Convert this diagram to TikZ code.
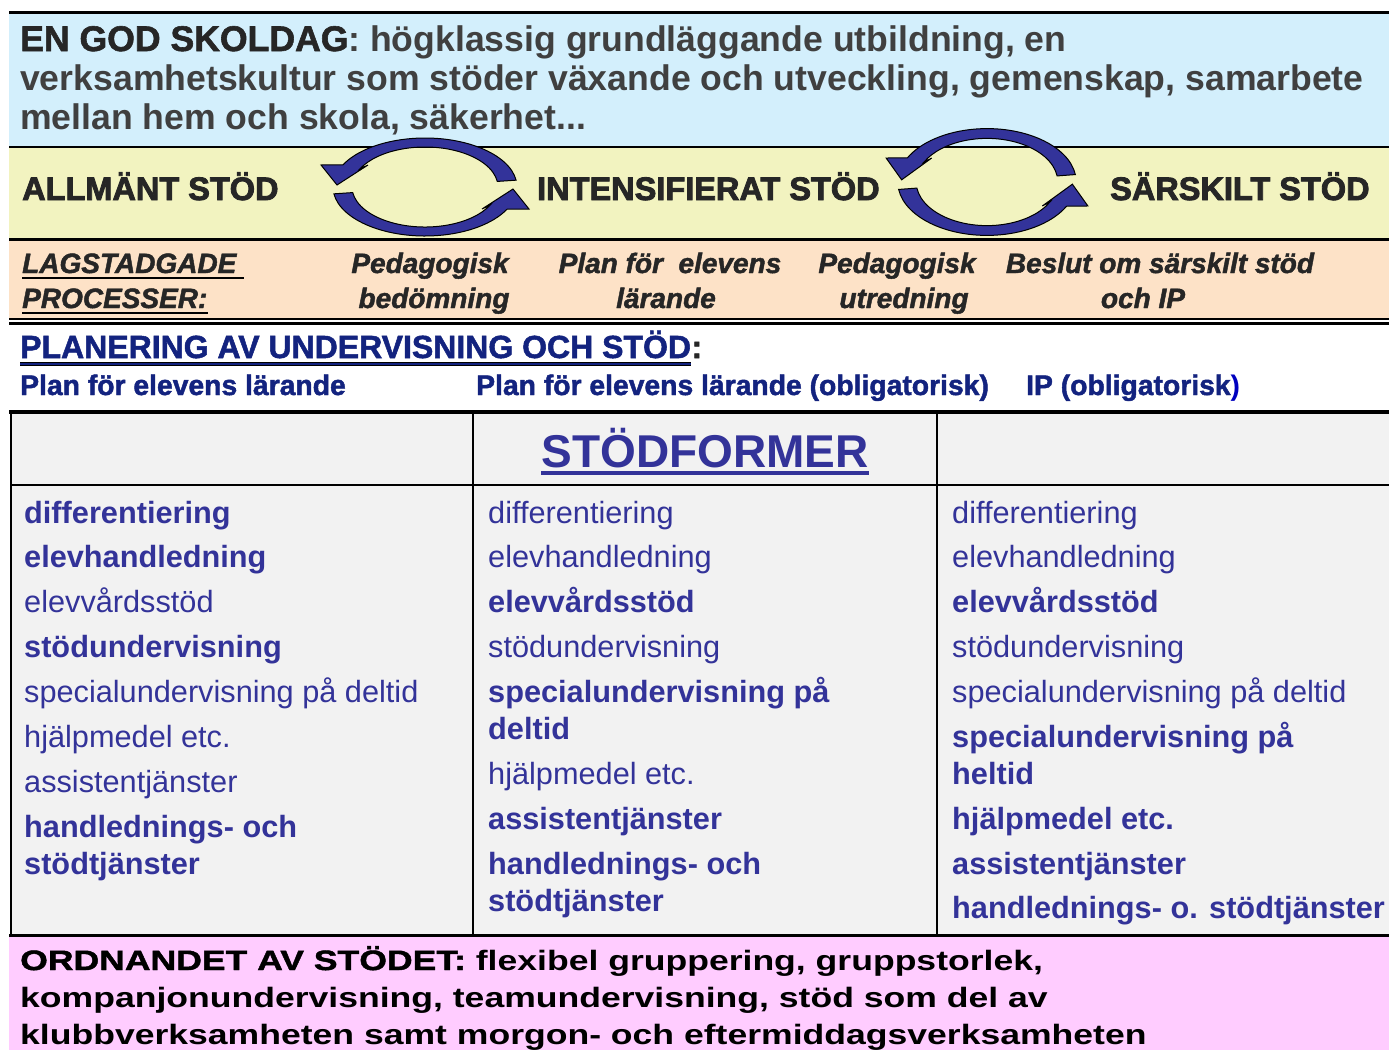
\documentclass[tikz,border=0pt]{standalone}
\usepackage{fontspec}
\setmainfont{Liberation Sans}
\newfontfamily\widesans[FakeStretch=1.27]{Liberation Sans}
\newfontfamily\wideheavy[FakeStretch=1.27, FakeBold=1.6]{Liberation Sans}
\newfontfamily\heavysans[FakeBold=1.6]{Liberation Sans}
\newfontfamily\blacksans[FakeBold=2.6]{Liberation Sans}
\usepackage{tikz}
\usetikzlibrary{calc}

\definecolor{skyband}{HTML}{D3EFFC}
\definecolor{lemonband}{HTML}{F2F3C0}
\definecolor{peachband}{HTML}{FDE2C7}
\definecolor{pinkband}{HTML}{FFCCFF}
\definecolor{tablegray}{HTML}{F2F2F2}
\definecolor{itemblue}{HTML}{333399}
\definecolor{planblue}{HTML}{13237F}
\definecolor{greytext}{HTML}{404040}
\definecolor{arrowblue}{HTML}{33339A}

\newcommand{\pxsize}[1]{\fontsize{#1}{#1}\selectfont}

\tikzset{
	lbl/.style = {inner sep=0pt, anchor=base west},
	clbl/.style = {inner sep=0pt, anchor=base},
	item/.style = {lbl, text=itemblue, font=\pxsize{30.7}},
	proc/.style = {clbl, text=black!85, font=\heavysans\pxsize{28}\bfseries\itshape},
	level/.style = {lbl, text=black!85, font=\blacksans\pxsize{32.5}\bfseries},
	cyclearrows/.pic = {
		\foreach \rot in {0,180}{
			\filldraw[fill=arrowblue, draw=black, line width=1pt, rotate=\rot]
				(8:92 and 49) arc[start angle=8, end angle=153, x radius=92, y radius=49]
				-- (-104,22) -- (-88,2) -- (-57,22)
				-- (153:73 and 40) arc[start angle=153, end angle=8, x radius=73, y radius=40] -- cycle;
		}
	}
}

\begin{document}
\begin{tikzpicture}[x=1pt, y=-1pt]
	\useasboundingbox[fill=white] (0,0) rectangle (1389,1050);
	% bands
	\fill[skyband] (9,13) rectangle (1389,147);
	\fill[lemonband] (9,147) rectangle (1389,239);
	\fill[peachband] (9,239) rectangle (1389,320);
	\fill[tablegray] (10,412) rectangle (1389,936);
	\fill[pinkband] (9,936) rectangle (1389,1050);
	% rules
	\draw[line width=2.5pt] (9,12.5) -- (1389,12.5);
	\draw[line width=2.5pt] (9,147) -- (1389,147);
	\draw[line width=2.5pt] (9,239.5) -- (1389,239.5);
	\draw[line width=2pt] (9,319) -- (1389,319);
	\draw[line width=3pt] (9,323.5) -- (1389,323.5);
	\draw[line width=4.5pt] (9,412) -- (1389,412);
	\draw[line width=2pt] (10,485) -- (1389,485);
	\draw[line width=2pt] (10.5,412) -- (10.5,936);
	\draw[line width=2pt] (472.5,412) -- (472.5,936);
	\draw[line width=2pt] (937,412) -- (937,936);
	\draw[line width=3pt] (9,935.5) -- (1389,935.5);

	% cycle arrows between the levels
	\pic[yscale=-1] (cycleA) at (425,187) {cyclearrows};
	\pic[xscale=0.97, yscale=-1.09] (cycleB) at (987,182) {cyclearrows};

	% a good school day
	\node[lbl, text=greytext, font=\pxsize{35.6}\bfseries] (day1) at (20,51) {\textcolor{black!85}{\heavysans EN GOD SKOLDAG}: högklassig grundläggande utbildning, en};
	\node[lbl, text=greytext, font=\pxsize{35.6}\bfseries] (day2) at (20,90) {verksamhetskultur som stöder växande och utveckling, gemenskap, samarbete};
	\node[lbl, text=greytext, font=\pxsize{35.6}\bfseries] (day3) at (20,129) {mellan hem och skola, säkerhet...};

	% levels of support
	\node[level] (general) at (22,200) {ALLMÄNT STÖD};
	\node[level] (intens) at (537,200) {INTENSIFIERAT STÖD};
	\node[level] (special) at (1110,200) {SÄRSKILT STÖD};

	% statutory processes
	\node[lbl, text=black!85, font=\heavysans\pxsize{28}\bfseries\itshape] (law1) at (22,273) {LAGSTADGADE};
	\node[lbl, text=black!85, font=\heavysans\pxsize{28}\bfseries\itshape] (law2) at (22,308) {PROCESSER:};
	\draw[line width=2pt] ([yshift=-5pt]law1.base west) -- ([xshift=7pt, yshift=-5pt]law1.base east);
	\draw[line width=2pt] ([yshift=-5pt]law2.base west) -- ([yshift=-5pt]law2.base east);
	\node[proc] (pedA1) at (430,273) {Pedagogisk};
	\node[proc] (pedA2) at (434,308) {bedömning};
	\node[proc] (plan1) at (670,273) {Plan för\ \ elevens};
	\node[proc] (plan2) at (666,308) {lärande};
	\node[proc] (pedB1) at (897,273) {Pedagogisk};
	\node[proc] (pedB2) at (904,308) {utredning};
	\node[proc] (dec1) at (1160,273) {Beslut om särskilt stöd};
	\node[proc] (dec2) at (1143,308) {och IP};

	% planning
	\node[lbl, text=planblue, font=\heavysans\pxsize{32}\bfseries] (planning) at (20,358) {PLANERING AV UNDERVISNING OCH STÖD};
	\node[lbl, text=black!85, font=\heavysans\pxsize{32}\bfseries] (plancolon) at (planning.base east) {:};
	\draw[line width=4pt] ([yshift=-6pt]planning.base west) -- ([yshift=-6pt]planning.base east);
	\draw[planblue, line width=2pt] ([yshift=-6pt]planning.base west) -- ([yshift=-6pt]planning.base east);
	\node[lbl, text=planblue, font=\heavysans\pxsize{28.3}\bfseries] (docA) at (20,395) {Plan för elevens lärande};
	\node[lbl, text=planblue, font=\heavysans\pxsize{28.3}\bfseries] (docB) at (476,395) {Plan för elevens lärande (obligatorisk)};
	\node[lbl, text=planblue, font=\heavysans\pxsize{28.3}\bfseries] (docC) at (1026,395) {IP (obligatorisk\textcolor{blue!75!black}{\normalfont\bfseries)}};

	% forms of support
	\node[clbl, text=itemblue, font=\pxsize{46}\bfseries] (forms) at (705,467) {STÖDFORMER};
	\draw[itemblue, line width=4pt] ([yshift=-6pt]forms.base west) -- ([yshift=-6pt]forms.base east);

	\foreach \yy/\wt/\txt [count=\i] in {523/\bfseries/differentiering, 567/\bfseries/elevhandledning,
		612/\mdseries/elevvårdsstöd, 657/\bfseries/stödundervisning, 702/\mdseries/specialundervisning på deltid,
		747/\mdseries/hjälpmedel etc., 792/\mdseries/assistentjänster, 837/\bfseries/handlednings- och,
		874/\bfseries/stödtjänster}
		\node[item] (gen\i) at (24,\yy) {\wt\txt};
	\foreach \yy/\wt/\txt [count=\i] in {523/\mdseries/differentiering, 567/\mdseries/elevhandledning,
		612/\bfseries/elevvårdsstöd, 657/\mdseries/stödundervisning, 702/\bfseries/specialundervisning på,
		739/\bfseries/deltid, 784/\mdseries/hjälpmedel etc., 829/\bfseries/assistentjänster,
		874/\bfseries/handlednings- och, 911/\bfseries/stödtjänster}
		\node[item] (int\i) at (488,\yy) {\wt\txt};
	\foreach \yy/\wt/\txt [count=\i] in {523/\mdseries/differentiering, 567/\mdseries/elevhandledning,
		612/\bfseries/elevvårdsstöd, 657/\mdseries/stödundervisning, 702/\mdseries/specialundervisning på deltid,
		747/\bfseries/specialundervisning på, 784/\bfseries/heltid, 829/\bfseries/hjälpmedel etc.,
		874/\bfseries/assistentjänster, 918/\bfseries/handlednings- o. stödtjänster}
		\node[item] (spc\i) at (952,\yy) {\wt\txt};

	% arrangement of support
	\node[lbl, font=\widesans\pxsize{28}\bfseries] (org1) at (20,970) {{\wideheavy ORDNANDET AV STÖDET:} flexibel gruppering, gruppstorlek,};
	\node[lbl, font=\widesans\pxsize{28}\bfseries] (org2) at (20,1007) {kompanjonundervisning, teamundervisning, stöd som del av};
	\node[lbl, font=\widesans\pxsize{28}\bfseries] (org3) at (20,1044) {klubbverksamheten samt morgon- och eftermiddagsverksamheten};
\end{tikzpicture}
\end{document}
